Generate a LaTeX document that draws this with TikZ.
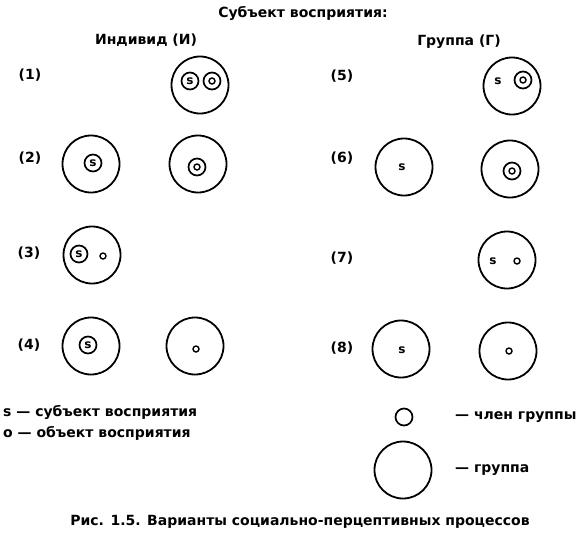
\documentclass[tikz,border=0pt]{standalone}
\usepackage{fontspec}
\setmainfont{DejaVu Sans}

\begin{document}
\begin{tikzpicture}[x=1pt, y=-1pt,
    txt/.style={font=\fontsize{14}{16}\selectfont\bfseries, inner sep=0pt},
    group/.style={draw, circle, line width=1.8pt, minimum size=57pt, inner sep=0pt},
    member/.style={draw, circle, line width=1.7pt, minimum size=17pt, inner sep=0pt, font=\fontsize{12}{12}\selectfont\bfseries},
    objpt/.style={draw, circle, line width=1.4pt, minimum size=6pt, inner sep=0pt},
    subj/.style={inner sep=0pt, font=\fontsize{12}{12}\selectfont\bfseries}
]
\useasboundingbox (0,0) rectangle (580,539);

% Headings
\node[txt] (title) at (303,13) {Субъект восприятия:};
\node[txt] (ind) at (146,40) {Индивид (И)};
\node[txt] (grp) at (459,42) {Группа (Г)};

% Row labels
\foreach \n/\x/\y in {1/30/75, 2/30/158, 3/29/253, 4/29/345, 5/342/76, 6/342/158, 7/342/258, 8/342/348}
{
    \node[txt] (r\n) at (\x,\y) {(\n)};
}

% (1)
\node[group] (g1) at (200,85) {};
\node[member] (s1) at (190,81) {s};
\node[member] (m1) at (212,81) {};
\node[objpt] (o1) at (m1) {};

% (2)
\node[group] (g2a) at (91,164) {};
\node[member] (s2) at (93,163) {s};
\node[group] (g2b) at (198,164) {};
\node[member] (m2) at (197,167) {};
\node[objpt] (o2) at (m2) {};

% (3)
\node[group] (g3) at (92,255) {};
\node[member] (s3) at (79,254) {s};
\node[objpt] (o3) at (103,256) {};

% (4)
\node[group] (g4a) at (91,346) {};
\node[member] (s4) at (88,345) {s};
\node[group] (g4b) at (195,346) {};
\node[objpt] (o4) at (196,349) {};

% (5)
\node[group] (g5) at (512,86) {};
\node[subj] (s5) at (498,81) {s};
\node[member] (m5) at (523,80) {};
\node[objpt] (o5) at (m5) {};

% (6)
\node[group] (g6a) at (404,167) {};
\node[subj] (s6) at (402,167) {s};
\node[group] (g6b) at (510,169) {};
\node[member] (m6) at (512,171) {};
\node[objpt] (o6) at (m6) {};

% (7)
\node[group] (g7) at (507,260) {};
\node[subj] (s7) at (493,261) {s};
\node[objpt] (o7) at (517,261) {};

% (8)
\node[group] (g8a) at (401,349) {};
\node[subj] (s8) at (402,350) {s};
\node[group] (g8b) at (508,351) {};
\node[objpt] (o8) at (509,351) {};

% Legend
\node[txt, anchor=west] (ls) at (3,412) {s --- субъект восприятия};
\node[txt, anchor=west] (lo) at (3,433) {o --- объект восприятия};
\node[member] (lm) at (404,417) {};
\node[txt, anchor=west] (lmt) at (455,417) {--- член группы};
\node[group] (lg) at (403,470) {};
\node[txt, anchor=west] (lgt) at (455,470) {--- группа};

% Caption
\node[txt] (cap) at (300,522) {Рис. 1.5. Варианты социально-перцептивных процессов};

\end{tikzpicture}
\end{document}
